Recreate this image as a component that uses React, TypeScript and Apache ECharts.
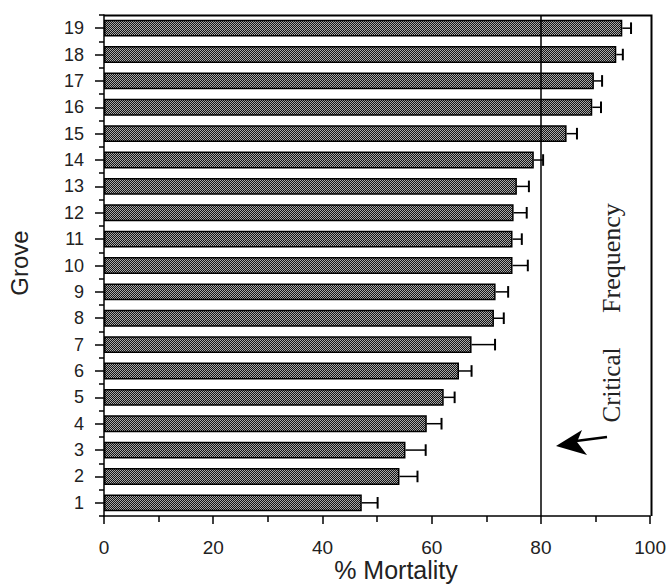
import React, { useEffect, useRef } from "react";
import * as echarts from "echarts";

const groves = ["1", "2", "3", "4", "5", "6", "7", "8", "9", "10", "11", "12", "13", "14", "15", "16", "17", "18", "19"];
const mortality = [47.2, 54.1, 55.2, 59.1, 62.2, 65.0, 67.3, 71.4, 71.7, 74.8, 74.8, 75.0, 75.6, 78.7, 84.7, 89.4, 89.7, 93.8, 94.9];
const errors = [2.9, 3.3, 3.7, 2.7, 2.0, 2.3, 4.3, 1.8, 2.3, 2.8, 1.7, 2.4, 2.2, 1.7, 1.9, 1.6, 1.5, 1.2, 1.6];
const criticalFrequency = 80;
const xTicks = { min: 0, max: 100, interval: 20 };

const W = 669;
const H = 585;
const G = { left: 104, right: 17, top: 15, bottom: 69 };

function makeChecker(): HTMLCanvasElement {
  const c = document.createElement("canvas");
  c.width = 2;
  c.height = 2;
  const ctx = c.getContext("2d")!;
  ctx.fillStyle = "#141414";
  ctx.fillRect(0, 0, 2, 2);
  ctx.fillStyle = "#a8a8a8";
  ctx.fillRect(0, 0, 1, 1);
  ctx.fillRect(1, 1, 1, 1);
  return c;
}

export default function App() {
  const ref = useRef<HTMLDivElement>(null);

  useEffect(() => {
    if (!ref.current) return;
    const chart = echarts.init(ref.current, undefined, { renderer: "svg" });
    const errData = mortality.map((m, i) => [m, i, errors[i]]);
    const sans = "Liberation Sans, Arial, sans-serif";
    const serif = "Liberation Serif, Times New Roman, serif";
    const black = { color: "#000", width: 1.5 };
    const xR = W - G.right;
    const yB = H - G.bottom;

    chart.setOption({
      animation: false,
      backgroundColor: "#fff",
      grid: { left: G.left, right: G.right, top: G.top, bottom: G.bottom },
      xAxis: {
        type: "value",
        min: xTicks.min,
        max: xTicks.max,
        interval: xTicks.interval,
        splitLine: { show: false },
        axisLine: { show: true, onZero: false, lineStyle: black },
        axisTick: { show: true, length: 8, lineStyle: black },
        minorTick: { show: true, splitNumber: 2, length: 6, lineStyle: black },
        axisLabel: { color: "#222", fontSize: 19, fontFamily: sans, margin: 22 },
      },
      yAxis: [
        {
          type: "category",
          data: groves,
          axisLine: { show: true, onZero: false, lineStyle: black },
          axisTick: { show: true, alignWithLabel: true, length: 9, lineStyle: black },
          axisLabel: { color: "#222", fontSize: 18, fontFamily: sans, margin: 20 },
        },
        {
          type: "category",
          data: groves,
          position: "left",
          axisLine: { show: false, onZero: false },
          axisTick: { show: true, length: 5, lineStyle: black },
          axisLabel: { show: false },
        },
      ],
      series: [
        {
          type: "bar",
          data: mortality,
          barWidth: "64%",
          itemStyle: {
            color: { image: makeChecker(), repeat: "repeat" },
            borderColor: "#000",
            borderWidth: 1.5,
          },
          markLine: {
            silent: true,
            symbol: ["none", "none"],
            label: { show: false },
            lineStyle: { color: "#000", type: "solid", width: 1.5 },
            data: [{ xAxis: criticalFrequency }],
          },
        },
        {
          type: "custom",
          z: 5,
          data: errData,
          encode: { x: 0, y: 1 },
          renderItem: (params: any, api: any) => {
            const v = api.value(0);
            const c = api.value(1);
            const e = api.value(2);
            const p0 = api.coord([v, c]);
            const p1 = api.coord([v + e, c]);
            const h = api.size([0, 1])[1] * 0.22;
            return {
              type: "group",
              children: [
                { type: "line", shape: { x1: p0[0], y1: p0[1], x2: p1[0], y2: p1[1] }, style: { stroke: "#000", lineWidth: 1.5 } },
                { type: "line", shape: { x1: p1[0], y1: p1[1] - h, x2: p1[0], y2: p1[1] + h }, style: { stroke: "#000", lineWidth: 2 } },
              ],
            };
          },
        },
      ],
      graphic: [
        {
          type: "polyline",
          z: 100,
          shape: { points: [[G.left, G.top + 0.5], [xR - 0.5, G.top + 0.5], [xR - 0.5, yB]] },
          style: { stroke: "#000", lineWidth: 2, fill: null },
        },
        {
          type: "text",
          x: 19,
          y: 263,
          rotation: Math.PI / 2,
          style: { text: "Grove", fontSize: 24, fontFamily: sans, fill: "#222", align: "center", verticalAlign: "middle" },
        },
        {
          type: "text",
          x: 396,
          y: 570,
          style: { text: "% Mortality", fontSize: 25, fontFamily: sans, fill: "#222", align: "center", verticalAlign: "middle" },
        },
        {
          type: "text",
          x: 611,
          y: 385,
          rotation: Math.PI / 2,
          style: { text: "Critical", fontSize: 25, fontFamily: serif, fill: "#222", align: "center", verticalAlign: "middle" },
        },
        {
          type: "text",
          x: 611,
          y: 258,
          rotation: Math.PI / 2,
          style: { text: "Frequency", fontSize: 26, fontFamily: serif, fill: "#222", align: "center", verticalAlign: "middle" },
        },
        {
          type: "line",
          shape: { x1: 576, y1: 441, x2: 607, y2: 437 },
          style: { stroke: "#000", lineWidth: 2.5 },
        },
        {
          type: "polygon",
          shape: { points: [[556, 446], [582, 430], [577, 442], [587, 455]] },
          style: { fill: "#000" },
        },
      ],
    });

    return () => chart.dispose();
  }, []);

  return <div ref={ref} style={{ position: "fixed", left: 0, top: 0, width: W, height: H }} />;
}
